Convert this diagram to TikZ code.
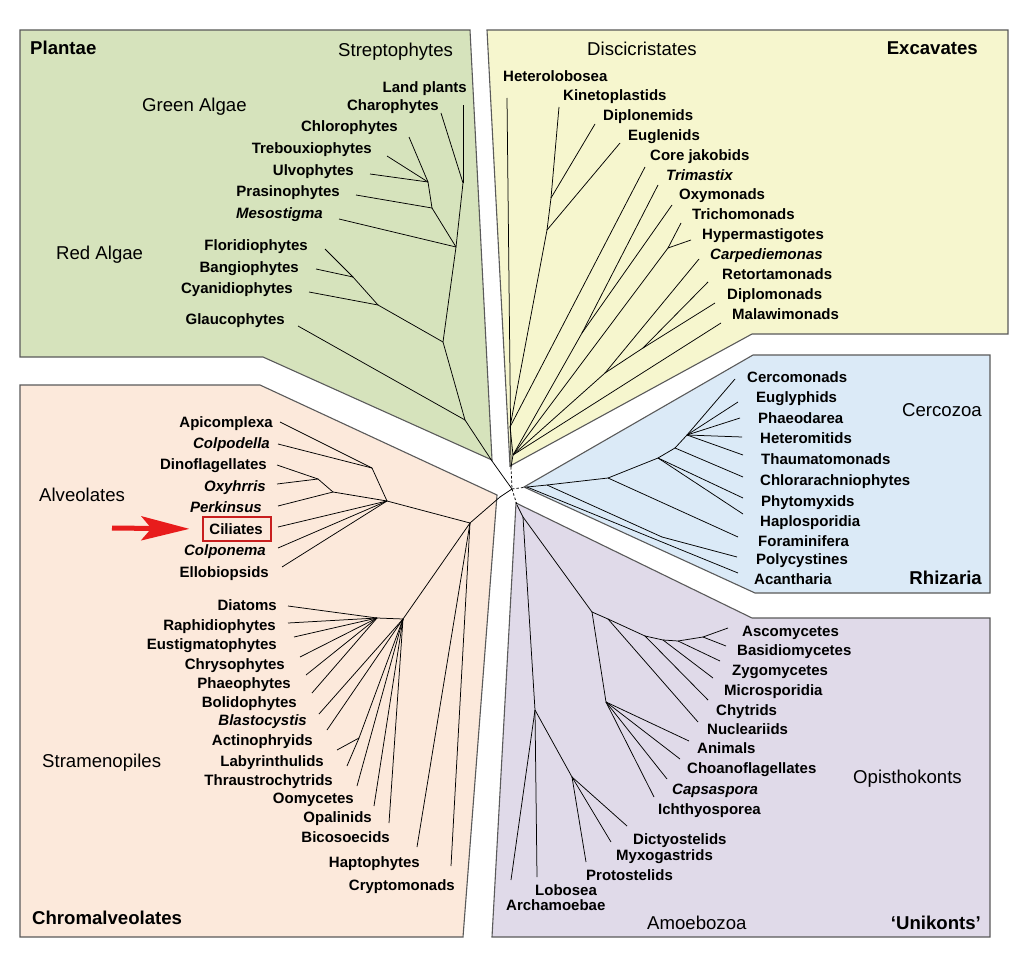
\documentclass[tikz,border=0pt]{standalone}
\usepackage{fontspec}
\setmainfont{Liberation Sans}
\usetikzlibrary{arrows.meta}
\definecolor{plantae}{RGB}{214,227,188}
\definecolor{excav}{RGB}{246,246,206}
\definecolor{rhiz}{RGB}{219,234,247}
\definecolor{chrom}{RGB}{252,233,219}
\definecolor{unik}{RGB}{224,218,233}
\definecolor{panelborder}{RGB}{90,90,90}
\definecolor{markred}{RGB}{232,28,28}
\definecolor{boxred}{RGB}{200,30,30}
\begin{document}
\begin{tikzpicture}[x=1pt,y=-1pt,
  panel/.style={draw=panelborder, line width=1.1pt, line join=miter},
  br/.style={line width=0.75pt, black},
  dsh/.style={line width=0.75pt, black, dash pattern=on 2.5pt off 2pt},
  leaf/.style={inner sep=0pt, font=\fontsize{15}{16}\selectfont\bfseries, text height=10.7pt, text depth=0pt},
  leafit/.style={leaf, font=\fontsize{15}{16}\selectfont\bfseries\itshape},
  leafE/.style={leaf, anchor=east}, leafW/.style={leaf, anchor=west},
  leafitE/.style={leafit, anchor=east}, leafitW/.style={leafit, anchor=west},
  grp/.style={inner sep=0pt, font=\fontsize{18.6}{20}\selectfont, text height=13.4pt, text depth=0pt},
  grpW/.style={grp, anchor=west}, grpE/.style={grp, anchor=east},
  ttlW/.style={grp, anchor=west, font=\fontsize{18.6}{20}\selectfont\bfseries},
  ttlE/.style={grp, anchor=east, font=\fontsize{18.6}{20}\selectfont\bfseries},
  markbox/.style={draw=boxred, line width=1.2pt, minimum width=68pt, minimum height=24pt, inner sep=0pt},
  markarrow/.style={draw=markred, line width=5pt, -{Stealth[length=48pt,width=24pt,inset=10pt]}}
]
\useasboundingbox (0,0) rectangle (1014,968);
\fill[white] (0,0) rectangle (1014,968);

% ---------- panels ----------
\draw[panel, fill=plantae] (20,30) -- (470,30) -- (492,460) -- (263,357) -- (20,357) -- cycle;
\draw[panel, fill=excav] (487,30) -- (1008,30) -- (1008,334) -- (752,334) -- (510,466) -- cycle;
\draw[panel, fill=rhiz] (753,355) -- (990,355) -- (990,593) -- (755,593) -- (524,487) -- cycle;
\draw[panel, fill=chrom] (20,385) -- (260,385) -- (497,495) -- (463,937) -- (20,937) -- cycle;
\draw[panel, fill=unik] (516,503) -- (752,618) -- (990,618) -- (990,937) -- (492,937) -- cycle;

% ---------- centre ----------
\coordinate (C) at (512,489);

% ---------- Plantae tree ----------
\coordinate (gRoot) at (492,461);
\coordinate (gF) at (465,420);
\coordinate (gE) at (443,342);
\coordinate (gD) at (456,247);
\coordinate (gS) at (463,183);
\coordinate (gLand) at (463,105);
\coordinate (gChar) at (441,113);
\coordinate (gB) at (432,208);
\coordinate (gA) at (428,182);
\coordinate (gChlo) at (409,137);
\coordinate (gTreb) at (387,156);
\coordinate (gUlvo) at (370,174);
\coordinate (gPras) at (356,195);
\coordinate (gMeso) at (339,219);
\coordinate (gR2) at (378,305);
\coordinate (gR1) at (353,277);
\coordinate (gFlor) at (325,249);
\coordinate (gBang) at (316,269);
\coordinate (gCyan) at (309,292);
\coordinate (gGlau) at (298,326);
\foreach \a/\b in {C/gRoot, gRoot/gF, gF/gE, gF/gGlau, gE/gD, gD/gS, gS/gLand, gS/gChar,
  gD/gMeso, gD/gB, gB/gPras, gB/gA, gA/gChlo, gA/gTreb, gA/gUlvo, gE/gR2, gR2/gCyan,
  gR2/gR1, gR1/gFlor, gR1/gBang}
  \draw[br] (\a) -- (\b);

% ---------- Excavates tree ----------
\coordinate (yRoot) at (511,467);
\coordinate (yHet) at (507,98);
\coordinate (y1) at (513,455);
\coordinate (yJ) at (510,427);
\coordinate (yK2) at (547,230);
\coordinate (yK1) at (551,198);
\coordinate (yKin) at (559,107);
\coordinate (yDipl) at (595,124);
\coordinate (yEug) at (620,143);
\coordinate (yCore) at (645,167);
\coordinate (yTO) at (582,333);
\coordinate (yTri) at (658,185);
\coordinate (yOxy) at (672,205);
\coordinate (yH) at (668,248);
\coordinate (yTrich) at (681,223);
\coordinate (yHyp) at (691,240);
\coordinate (yCRD) at (605,373);
\coordinate (yCarp) at (699,259);
\coordinate (yRD) at (643,348);
\coordinate (yRet) at (708,282);
\coordinate (yDipm) at (715,303);
\coordinate (yMal) at (721,323);
\foreach \a/\b in {yRoot/yHet, yRoot/y1, y1/yJ, yJ/yK2, yK2/yK1, yK1/yKin, yK1/yDipl,
  yK2/yEug, yJ/yCore, y1/yTO, yTO/yTri, yTO/yOxy, y1/yH, yH/yTrich, yH/yHyp,
  y1/yCRD, yCRD/yCarp, yCRD/yRD, yRD/yRet, yRD/yDipm, y1/yMal}
  \draw[br] (\a) -- (\b);
\draw[dsh] (yRoot) -- (C);

% ---------- Rhizaria tree ----------
\coordinate (bRoot) at (527,487);
\coordinate (bQ) at (547,485);
\coordinate (bF) at (608,478);
\coordinate (bPH) at (658,458);
\coordinate (bCH) at (675,448);
\coordinate (bCE) at (687,435);
\coordinate (bCerc) at (735,379);
\coordinate (bEugl) at (738,402);
\coordinate (bPhae) at (740,418);
\coordinate (bHet) at (742,437);
\coordinate (bThau) at (743,455);
\coordinate (bChlo) at (743,477);
\coordinate (bPhyt) at (743,498);
\coordinate (bHapl) at (743,514);
\coordinate (bFora) at (738,537);
\coordinate (bN1) at (662,537);
\coordinate (bPoly) at (737,557);
\coordinate (bAcan) at (738,573);
\foreach \a/\b in {bRoot/bQ, bQ/bF, bF/bPH, bPH/bCH, bCH/bCE, bCE/bCerc, bCE/bEugl,
  bCE/bPhae, bCE/bHet, bCE/bThau, bCH/bChlo, bPH/bPhyt, bPH/bHapl, bF/bFora,
  bQ/bN1, bN1/bPoly, bRoot/bAcan}
  \draw[br] (\a) -- (\b);
\draw[dsh] (C) -- (bRoot);

% ---------- Chromalveolates tree ----------
\coordinate (pRoot) at (500,497);
\coordinate (pCA) at (470,523);
\coordinate (pA0) at (387,501);
\coordinate (pA1) at (372,468);
\coordinate (pApi) at (280,422);
\coordinate (pColpd) at (278,444);
\coordinate (pD2) at (333,492);
\coordinate (pD1) at (318,479);
\coordinate (pDino) at (277,465);
\coordinate (pOxy) at (277,484);
\coordinate (pPerk) at (278,506);
\coordinate (pCil) at (278,527);
\coordinate (pColpn) at (278,548);
\coordinate (pEllo) at (282,567);
\coordinate (pST) at (403,619);
\coordinate (pST1) at (377,618);
\coordinate (pDiat) at (288,606);
\coordinate (pRaph) at (288,623);
\coordinate (pEust) at (294,637);
\coordinate (pChry) at (300,657);
\coordinate (pPhae) at (306,675);
\coordinate (pBoli) at (312,693);
\coordinate (pBlas) at (319,714);
\coordinate (pActi) at (327,730);
\coordinate (pLT) at (359,738);
\coordinate (pLaby) at (337,750);
\coordinate (pThra) at (347,766);
\coordinate (pOomy) at (357,786);
\coordinate (pOpal) at (374,806);
\coordinate (pBico) at (389,823);
\coordinate (pHapt) at (417,847);
\coordinate (pCryp) at (451,866);
\foreach \a/\b in {C/pRoot, pRoot/pCA, pCA/pA0, pA0/pA1, pA1/pApi, pA1/pColpd, pA0/pD2,
  pD2/pD1, pD1/pDino, pD1/pOxy, pD2/pPerk, pA0/pCil, pA0/pColpn, pA0/pEllo,
  pCA/pST, pST/pST1, pST1/pDiat, pST1/pRaph, pST1/pEust, pST1/pChry, pST1/pPhae,
  pST1/pBoli, pST/pBlas, pST/pActi, pST/pLT, pLT/pLaby, pLT/pThra, pST/pOomy,
  pST/pOpal, pST/pBico, pCA/pHapt, pCA/pCryp}
  \draw[br] (\a) -- (\b);

% ---------- Unikonts tree ----------
\coordinate (uRoot) at (517,505);
\coordinate (u1) at (523,517);
\coordinate (uOP) at (592,612);
\coordinate (uNuc) at (608,619);
\coordinate (uChy) at (645,636);
\coordinate (uMic) at (663,640);
\coordinate (uZyg) at (678,641);
\coordinate (uAB) at (703,637);
\coordinate (uAsco) at (728,628);
\coordinate (uBasi) at (726,646);
\coordinate (uZygL) at (720,661);
\coordinate (uMicL) at (713,678);
\coordinate (uChyL) at (708,700);
\coordinate (uNucL) at (698,722);
\coordinate (uHZ) at (606,702);
\coordinate (uAnim) at (689,741);
\coordinate (uChoa) at (680,759);
\coordinate (uCaps) at (667,779);
\coordinate (uIcht) at (654,797);
\coordinate (uAM) at (535,710);
\coordinate (uArch) at (511,880);
\coordinate (uLobo) at (537,877);
\coordinate (uMY) at (572,777);
\coordinate (uProt) at (586,862);
\coordinate (uMyxo) at (611,842);
\coordinate (uDict) at (627,826);
\foreach \a/\b in {uRoot/u1, u1/uOP, u1/uAM, uAM/uLobo, uAM/uArch, uAM/uMY, uMY/uProt,
  uMY/uMyxo, uMY/uDict, uOP/uNuc, uNuc/uChy, uChy/uMic, uMic/uZyg, uZyg/uAB,
  uAB/uAsco, uAB/uBasi, uZyg/uZygL, uMic/uMicL, uChy/uChyL, uNuc/uNucL, uOP/uHZ,
  uHZ/uAnim, uHZ/uChoa, uHZ/uCaps, uHZ/uIcht}
  \draw[br] (\a) -- (\b);
\draw[dsh] (C) -- (uRoot);

% ---------- Plantae labels ----------
\node[ttlW] (tPlantae) at (30,48) {Plantae};
\node[grpW] (tStrepto) at (338,50) {Streptophytes};
\node[grpW] (tGreen) at (142,105) {Green Algae};
\node[grpW] (tRed) at (56,253) {Red Algae};
\node[leafE] (lLand) at (467,87) {Land plants};
\node[leafE] (lChar) at (439,105) {Charophytes};
\node[leafE] (lChlo) at (398,126) {Chlorophytes};
\node[leafE] (lTreb) at (372,148) {Trebouxiophytes};
\node[leafE] (lUlvo) at (354,170) {Ulvophytes};
\node[leafE] (lPras) at (340,191) {Prasinophytes};
\node[leafitE] (lMeso) at (323,213) {Mesostigma};
\node[leafE] (lFlor) at (308,245) {Floridiophytes};
\node[leafE] (lBang) at (299,267) {Bangiophytes};
\node[leafE] (lCyan) at (293,288) {Cyanidiophytes};
\node[leafE] (lGlau) at (285,319) {Glaucophytes};

% ---------- Excavates labels ----------
\node[grpW] (tDisci) at (587,49) {Discicristates};
\node[ttlE] (tExcav) at (978,48) {Excavates};
\node[leafW] (lHet) at (503,76) {Heterolobosea};
\node[leafW] (lKin) at (563,95) {Kinetoplastids};
\node[leafW] (lDipl) at (603,115) {Diplonemids};
\node[leafW] (lEug) at (628,135) {Euglenids};
\node[leafW] (lCore) at (650,155) {Core jakobids};
\node[leafitW] (lTri) at (666,175) {Trimastix};
\node[leafW] (lOxy) at (679,194) {Oxymonads};
\node[leafW] (lTrich) at (692,214) {Trichomonads};
\node[leafW] (lHyp) at (702,234) {Hypermastigotes};
\node[leafitW] (lCarp) at (710,254) {Carpediemonas};
\node[leafW] (lRet) at (722,274) {Retortamonads};
\node[leafW] (lDipm) at (727,294) {Diplomonads};
\node[leafW] (lMal) at (732,314) {Malawimonads};

% ---------- Rhizaria labels ----------
\node[grpE] (tCerco) at (982,410) {Cercozoa};
\node[ttlE] (tRhiz) at (982,578) {Rhizaria};
\node[leafW] (lCerc) at (747,377) {Cercomonads};
\node[leafW] (lEugl) at (756,397) {Euglyphids};
\node[leafW] (lPhae) at (758,418) {Phaeodarea};
\node[leafW] (lHetm) at (760,438) {Heteromitids};
\node[leafW] (lThau) at (761,459) {Thaumatomonads};
\node[leafW] (lChlr) at (760,480) {Chlorarachniophytes};
\node[leafW] (lPhyt) at (761,501) {Phytomyxids};
\node[leafW] (lHapl) at (760,521) {Haplosporidia};
\node[leafW] (lFora) at (758,541) {Foraminifera};
\node[leafW] (lPoly) at (756,559) {Polycystines};
\node[leafW] (lAcan) at (754,579) {Acantharia};

% ---------- Chromalveolates labels ----------
\node[grpW] (tAlveo) at (39,495) {Alveolates};
\node[grpW] (tStram) at (42,761) {Stramenopiles};
\node[ttlW] (tChrom) at (32,918) {Chromalveolates};
\node[leafE] (lApi) at (273,422) {Apicomplexa};
\node[leafitE] (lColpd) at (270,443) {Colpodella};
\node[leafE] (lDino) at (267,464) {Dinoflagellates};
\node[leafitE] (lOxyh) at (266,486) {Oxyhrris};
\node[leafitE] (lPerk) at (262,507) {Perkinsus};
\node[markbox] (cilbox) at (237,529) {};
\node[leafE] (lCil) at (263,529) {Ciliates};
\node[leafitE] (lColpn) at (266,550) {Colponema};
\node[leafE] (lEllo) at (269,572) {Ellobiopsids};
\node[leafE] (lDiat) at (277,605) {Diatoms};
\node[leafE] (lRaph) at (276,625) {Raphidiophytes};
\node[leafE] (lEust) at (277,644) {Eustigmatophytes};
\node[leafE] (lChry) at (285,664) {Chrysophytes};
\node[leafE] (lPhaeo) at (291,683) {Phaeophytes};
\node[leafE] (lBoli) at (297,702) {Bolidophytes};
\node[leafitE] (lBlas) at (307,720) {Blastocystis};
\node[leafE] (lActi) at (313,740) {Actinophryids};
\node[leafE] (lLaby) at (324,761) {Labyrinthulids};
\node[leafE] (lThra) at (333,780) {Thraustrochytrids};
\node[leafE] (lOomy) at (354,798) {Oomycetes};
\node[leafE] (lOpal) at (372,817) {Opalinids};
\node[leafE] (lBico) at (390,837) {Bicosoecids};
\node[leafE] (lHapt) at (420,862) {Haptophytes};
\node[leafE] (lCryp) at (455,885) {Cryptomonads};
\coordinate (arrowtail) at (112,528);
\draw[markarrow, shorten >=13pt] (arrowtail) -- (cilbox.west);

% ---------- Unikonts labels ----------
\node[grpW] (tOpis) at (853,777) {Opisthokonts};
\node[grpW] (tAmoe) at (647,923) {Amoebozoa};
\node[ttlE] (tUnik) at (981,923) {‘Unikonts’};
\node[leafW] (lAsco) at (742,631) {Ascomycetes};
\node[leafW] (lBasi) at (737,650) {Basidiomycetes};
\node[leafW] (lZygo) at (732,670) {Zygomycetes};
\node[leafW] (lMicr) at (724,690) {Microsporidia};
\node[leafW] (lChyt) at (716,710) {Chytrids};
\node[leafW] (lNucl) at (707,729) {Nucleariids};
\node[leafW] (lAnim) at (697,748) {Animals};
\node[leafW] (lChoa) at (687,768) {Choanoflagellates};
\node[leafitW] (lCaps) at (672,789) {Capsaspora};
\node[leafW] (lIcht) at (658,809) {Ichthyosporea};
\node[leafW] (lDict) at (633,839) {Dictyostelids};
\node[leafW] (lMyxo) at (616,855) {Myxogastrids};
\node[leafW] (lProt) at (586,875) {Protostelids};
\node[leafW] (lLobo) at (535,890) {Lobosea};
\node[leafW] (lArch) at (506,905) {Archamoebae};
\end{tikzpicture}
\end{document}
